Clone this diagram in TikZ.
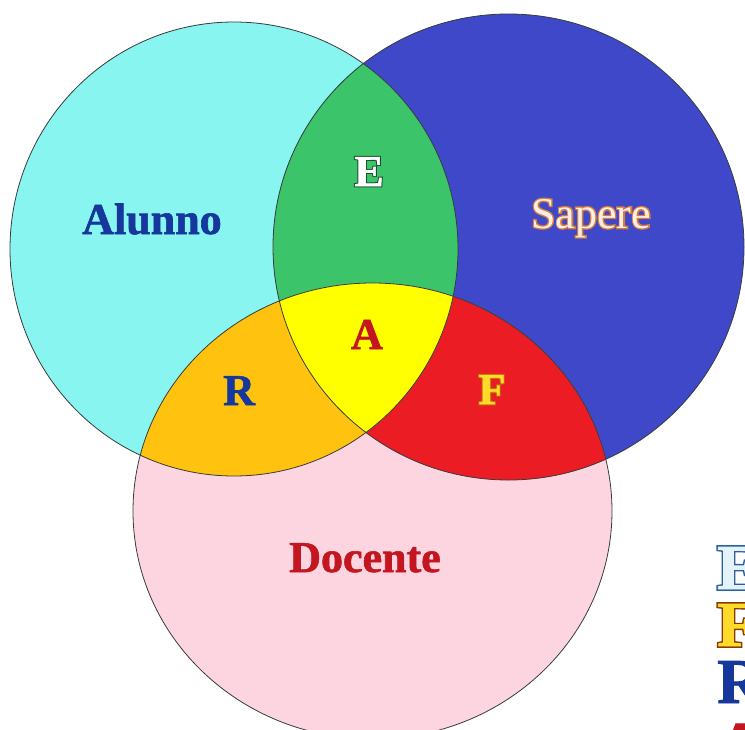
\documentclass[tikz,border=0pt]{standalone}
\usepackage{fontspec}
\setmainfont{Liberation Serif}
\newfontfamily\heavy[BoldFeatures={FakeBold=1.4}]{Liberation Serif}
\newfontfamily\outl[UprightFeatures={FakeBold=6},BoldFeatures={FakeBold=6}]{Liberation Serif}
\definecolor{cyanF}{RGB}{136,245,240}
\definecolor{blueF}{RGB}{63,72,200}
\definecolor{pinkF}{RGB}{253,213,224}
\definecolor{greenF}{RGB}{60,196,106}
\definecolor{yellowF}{RGB}{255,255,0}
\definecolor{orangeF}{RGB}{255,194,14}
\definecolor{redF}{RGB}{236,28,36}
\definecolor{ringC}{RGB}{55,60,60}
\definecolor{darkBlue}{RGB}{22,55,155}
\definecolor{darkRed}{RGB}{195,22,32}
\definecolor{sapereF}{RGB}{255,238,228}
\definecolor{sapereO}{RGB}{215,125,60}
\definecolor{eO}{RGB}{25,80,45}
\definecolor{fF}{RGB}{255,218,40}
\definecolor{fO}{RGB}{195,110,20}
\definecolor{legEF}{RGB}{228,242,250}
\definecolor{legEO}{RGB}{45,95,155}
\definecolor{legFO}{RGB}{130,60,10}
% outlined text: #1 outline colour, #2 fill colour, #3 text
\newcommand{\outlined}[3]{\rlap{\outl\textcolor{#1}{#3}}\textcolor{#2}{#3}}
\tikzset{
  ring/.style={draw=ringC, line width=0.8pt},
  lbl/.style={font=\heavy\bfseries\fontsize{44}{44}\selectfont, inner sep=0pt, anchor=base},
  leg/.style={font=\heavy\bfseries\fontsize{64}{64}\selectfont, inner sep=0pt, anchor=base west},
}
\begin{document}
\begin{tikzpicture}[x=1pt,y=-1pt]
\useasboundingbox (0,0) rectangle (745,729);
\fill[white] (0,0) rectangle (745,729);
\clip (0,0) rectangle (745,729);
% base discs
\fill[cyanF] (234,249) ellipse [x radius=224pt, y radius=227pt];
\fill[blueF] (508.5,247) ellipse [x radius=235.5pt, y radius=233pt];
\fill[pinkF] (372.5,511) ellipse [x radius=239.5pt, y radius=228pt];
% blue & pink
\begin{scope}
  \clip (508.5,247) ellipse [x radius=235.5pt, y radius=233pt];
  \fill[redF] (372.5,511) ellipse [x radius=239.5pt, y radius=228pt];
\end{scope}
% cyan & others
\begin{scope}
  \clip (234,249) ellipse [x radius=224pt, y radius=227pt];
  \fill[greenF] (508.5,247) ellipse [x radius=235.5pt, y radius=233pt];
  \fill[orangeF] (372.5,511) ellipse [x radius=239.5pt, y radius=228pt];
  \clip (508.5,247) ellipse [x radius=235.5pt, y radius=233pt];
  \fill[yellowF] (372.5,511) ellipse [x radius=239.5pt, y radius=228pt];
\end{scope}
% outlines
\draw[ring] (234,249) ellipse [x radius=224pt, y radius=227pt];
\draw[ring] (508.5,247) ellipse [x radius=235.5pt, y radius=233pt];
\draw[ring] (372.5,511) ellipse [x radius=239.5pt, y radius=228pt];
% labels
\node[lbl, text=darkBlue] (alunno) at (152,234) {Alunno};
\node[lbl, font=\fontsize{44}{44}\selectfont] (sapere) at (591,228) {\outlined{sapereO}{sapereF}{Sapere}};
\node[lbl, text=darkRed] (docente) at (365,572) {Docente};
\node[lbl] (e) at (369,186) {\outlined{eO}{white}{E}};
\node[lbl, text=darkRed] (a) at (367,349) {A};
\node[lbl, text=darkBlue] (r) at (239,405) {R};
\node[lbl] (f) at (492,404) {\outlined{fO}{fF}{F}};
% legend letters (cut by the right edge)
\node[leg] (legE) at (717,589) {\outlined{legEO}{legEF}{E}};
\node[leg] (legF) at (717,646) {\outlined{legFO}{fF}{F}};
\node[leg, text=darkBlue] (legR) at (717,703) {R};
\node[leg, text=darkRed] (legA) at (717,766) {A};
\end{tikzpicture}
\end{document}
